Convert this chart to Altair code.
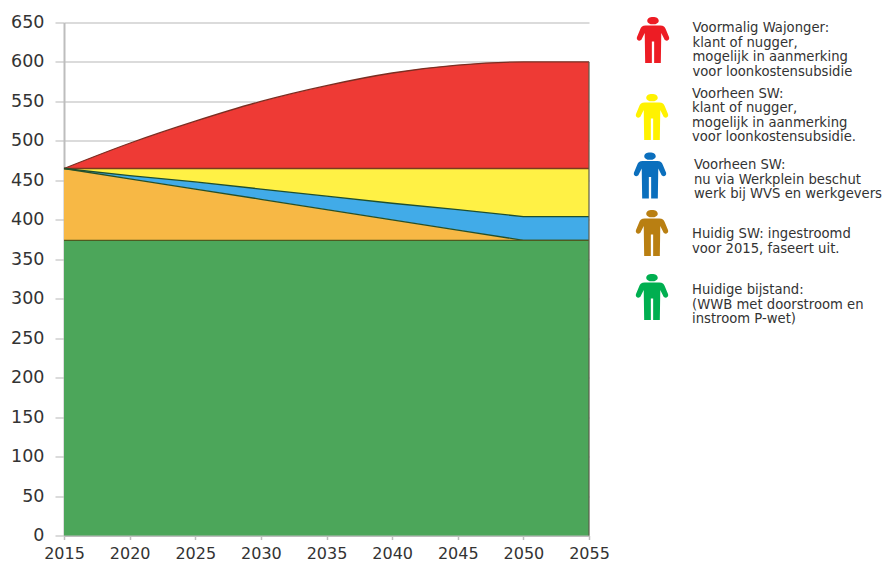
import altair as alt
import pandas as pd

years = [2015, 2020, 2025, 2030, 2035, 2040, 2045, 2050, 2055]
green_top = [374, 374, 374, 374, 374, 374, 374, 374, 374]
orange_top = [465, 452, 439, 426, 413, 400, 387, 374, 374]
blue_top = [465, 456, 448, 439, 430, 421, 413, 404, 404]
yellow_top = [465, 465, 465, 465, 465, 465, 465, 465, 465]
red_top = [465, 497, 525, 550, 570, 586, 596, 600, 600]
zero = [0] * len(years)

x_ticks = [2015, 2020, 2025, 2030, 2035, 2040, 2045, 2050, 2055]
y_ticks = [0, 50, 100, 150, 200, 250, 300, 350, 400, 450, 500, 550, 600, 650]

legend_texts = [
    ["Voormalig Wajonger:", "klant of nugger,", "mogelijk in aanmerking", "voor loonkostensubsidie"],
    ["Voorheen SW:", "klant of nugger,", "mogelijk in aanmerking", "voor loonkostensubsidie."],
    ["Voorheen SW:", "nu via Werkplein beschut", "werk bij WVS en werkgevers"],
    ["Huidig SW: ingestroomd", "voor 2015, faseert uit."],
    ["Huidige bijstand:", "(WWB met doorstroom en", "instroom P-wet)"],
]
icon_colors = ["#ED1C24", "#FFF200", "#0B6FBD", "#B97F12", "#00AF50"]

df = pd.DataFrame({
    "year": years, "zero": zero, "green": green_top, "orange": orange_top,
    "blue": blue_top, "yellow": yellow_top, "red": red_top,
})

FONT = "DejaVu Sans"
TXT = "#333333"
x_enc = alt.X("year:Q", scale=alt.Scale(domain=[2015, 2055], nice=False, zero=False),
              axis=alt.Axis(values=x_ticks, format="d", title=None, grid=False, tickSize=4,
                            tickColor="#bdbdbd", domainColor="#bdbdbd", domainWidth=2, tickWidth=1.5,
                            labelFont=FONT, labelFontSize=16, labelColor=TXT, labelPadding=6,
                            labelFlush=False, labelOverlap=False))
y_scale = alt.Scale(domain=[0, 650], nice=False)
y_axis = alt.Axis(values=y_ticks, title=None, grid=True, gridColor="#cfcfcf", gridWidth=1.5,
                  tickSize=9, tickColor="#cfcfcf", tickWidth=1.5, domainColor="#bdbdbd", domainWidth=2,
                  labelFont=FONT, labelFontSize=17.5, labelColor=TXT, labelPadding=11, labelOverlap=False)

base = alt.Chart(df)


def band(low, high, color, interp="linear"):
    return base.mark_area(color=color, opacity=1, interpolate=interp).encode(
        x=x_enc, y=alt.Y(f"{high}:Q", scale=y_scale, axis=y_axis), y2=alt.Y2(f"{low}:Q"))


def edge(field, color, interp="linear"):
    return base.mark_line(color=color, strokeWidth=1.3, interpolate=interp).encode(
        x=x_enc, y=alt.Y(f"{field}:Q", scale=y_scale, axis=y_axis))


layers = [
    band("yellow", "red", "#EE3A35", "monotone"),
    band("blue", "yellow", "#FFF145"),
    band("orange", "blue", "#41ABE8"),
    band("green", "orange", "#F7B845"),
    band("zero", "green", "#4CA65A"),
    edge("red", "#7A2E22", "monotone"),
    edge("yellow", "#7A3A1E"),
    edge("blue", "#1F4F2E"),
    edge("orange", "#24502A"),
    edge("green", "#4F5A20"),
    alt.Chart(df[df.year == 2055]).mark_rule(color="#5C5C4A", strokeWidth=1.2).encode(
        x=x_enc, y=alt.Y("zero:Q", scale=y_scale, axis=y_axis), y2=alt.Y2("red:Q")),
]

PERSON = ("M0,-1 C0.15,-1 0.25,-0.93 0.25,-0.84 C0.25,-0.75 0.15,-0.68 0,-0.68 "
          "C-0.15,-0.68 -0.25,-0.75 -0.25,-0.84 C-0.25,-0.93 -0.15,-1 0,-1 Z "
          "M-0.32,-0.63 L0.32,-0.63 C0.46,-0.63 0.52,-0.56 0.56,-0.46 L0.7,-0.12 "
          "C0.74,0.02 0.56,0.08 0.5,-0.02 L0.36,-0.3 L0.34,1 L0.05,1 L0.05,0.06 L-0.05,0.06 "
          "L-0.05,1 L-0.34,1 L-0.36,-0.3 L-0.5,-0.02 C-0.56,0.08 -0.74,0.02 -0.7,-0.12 "
          "L-0.56,-0.46 C-0.52,-0.56 -0.46,-0.63 -0.32,-0.63 Z")

ORIGIN_X, ORIGIN_Y = 64, 22.5
icon_pos = [(653, 40), (652, 117), (650, 175.5), (652, 233), (652, 297)]
text_pos = [(692.5, 28), (692, 93.5), (694, 165), (692, 234), (692, 290)]

dummy = pd.DataFrame({"a": [0]})
for color, (ix, iy), lines, (tx, ty) in zip(icon_colors, icon_pos, legend_texts, text_pos):
    layers.append(alt.Chart(dummy).mark_point(
        shape=PERSON, filled=True, color=color, opacity=1, size=2116, clip=False, strokeWidth=0
    ).encode(x=alt.value(ix - ORIGIN_X), y=alt.value(iy - ORIGIN_Y)))
    layers.append(alt.Chart(dummy).mark_text(
        text=lines, align="left", baseline="middle", font=FONT, fontSize=13.2, color=TXT,
        lineHeight=14.6, clip=False
    ).encode(x=alt.value(tx - ORIGIN_X), y=alt.value(ty - ORIGIN_Y)))

chart = alt.layer(*layers).properties(
    width=525, height=513,
    autosize=alt.AutoSizeParams(type="none"),
    padding={"left": 56, "top": 14.5, "right": 296, "bottom": 26},
    background="white",
).configure_view(stroke=None)

chart.save("out.html", embed_options={"renderer": "svg", "actions": False})
